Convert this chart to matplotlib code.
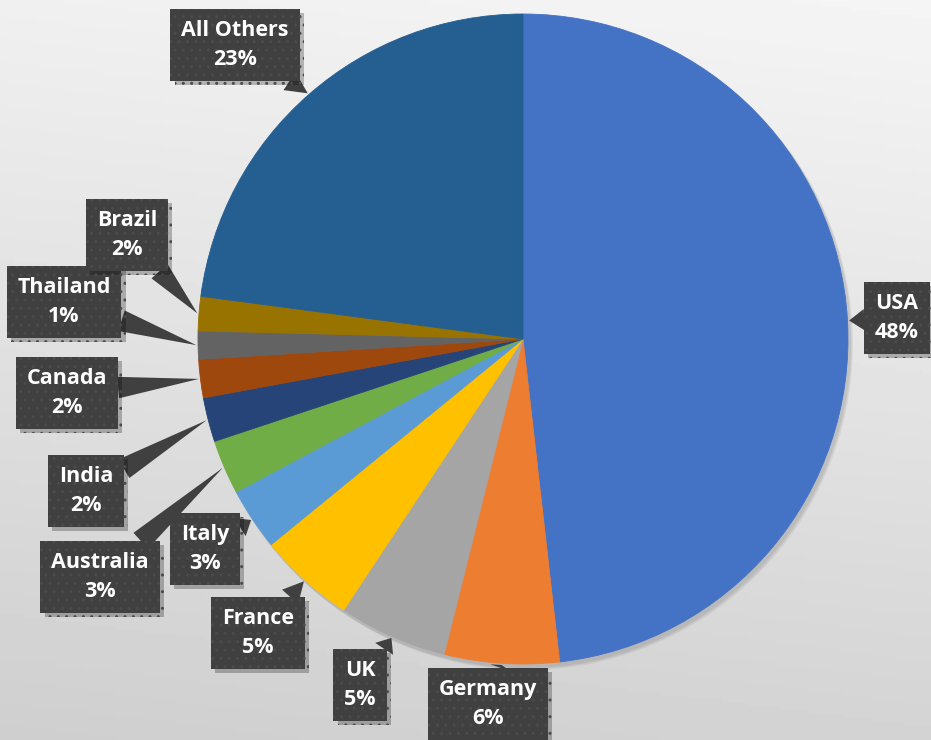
import numpy as np
import matplotlib
matplotlib.use('Agg')
from matplotlib import pyplot as plt
from matplotlib import patheffects as pe
from matplotlib.patches import Circle

# data
countries = ['USA', 'Germany', 'UK', 'France', 'Italy', 'Australia',
             'India', 'Canada', 'Thailand', 'Brazil', 'All Others']
shares = [48.2, 5.7, 5.4, 4.8, 3.1, 2.7, 2.2, 1.9, 1.4, 1.7, 22.9]
colors = ['#4472C4', '#ED7D31', '#A5A5A5', '#FFC000', '#5B9BD5', '#70AD47',
          '#264478', '#9E480E', '#636363', '#997300', '#255E91']

# label box centres, in image pixels (x from left, y from top)
label_pos = [(897, 318), (488, 704), (360, 685), (258, 633), (205, 549),
             (100, 577), (86, 491), (67, 393), (64, 302), (127, 235), (235, 45)]

W, H = 931, 740
cx, cy, R = 523, 339, 325

fig = plt.figure(figsize=(W / 100, H / 100), dpi=100)

# background gradient
bg = fig.add_axes([0, 0, 1, 1])
yy, xx = np.mgrid[0:1:200j, 0:1:200j]
grad = 0.94 - 0.13 * yy + 0.02 * xx
bg.imshow(grad, cmap='gray', vmin=0, vmax=1, extent=[0, 1, 0, 1], aspect='auto',
          origin='upper')
bg.axis('off')

ax = fig.add_axes([0, 0, 1, 1])
ax.patch.set_alpha(0)

# soft shadow under the pie
for k in range(3):
    sh = Circle((cx + 2 + k, H - cy - 3 - k), R + 1, fc='k', ec='none', alpha=0.05, zorder=0)
    ax.add_patch(sh)

wedges, _ = ax.pie(shares, colors=colors, startangle=90, counterclock=False,
                   center=(cx, H - cy), radius=R, wedgeprops=dict(linewidth=0.6))
for w, c in zip(wedges, colors):
    w.set_edgecolor(c)
ax.set_xlim(0, W)
ax.set_ylim(0, H)
ax.set_aspect('equal')
ax.axis('off')

total = sum(shares)
for w, name, val, (lx, ly) in zip(wedges, countries, shares, label_pos):
    mid = np.deg2rad((w.theta1 + w.theta2) / 2)
    px = cx + R * 1.005 * np.cos(mid)
    py = (H - cy) + R * 1.005 * np.sin(mid)
    txt = '%s\n%d%%' % (name, round(val / total * 100))
    t = ax.annotate(txt, xy=(px, py), xytext=(lx, H - ly), ha='center', va='center',
                    multialignment='center', color='white', fontsize=15.5,
                    fontweight='bold', family=['Open Sans', 'DejaVu Sans'],
                    linespacing=1.55,
                    bbox=dict(boxstyle='square,pad=0.5', fc='#404040', ec='#4b4b4b',
                              lw=0, hatch='..'),
                    arrowprops=dict(arrowstyle='wedge,tail_width=1.0,shrink_factor=0.5',
                                    fc='#404040', ec='none', shrinkA=0, shrinkB=0))
    t.get_bbox_patch().set_path_effects([
        pe.SimplePatchShadow(offset=(3, -3), shadow_rgbFace='k', alpha=0.25), pe.Normal()])

fig.savefig('out.png', dpi=100)
